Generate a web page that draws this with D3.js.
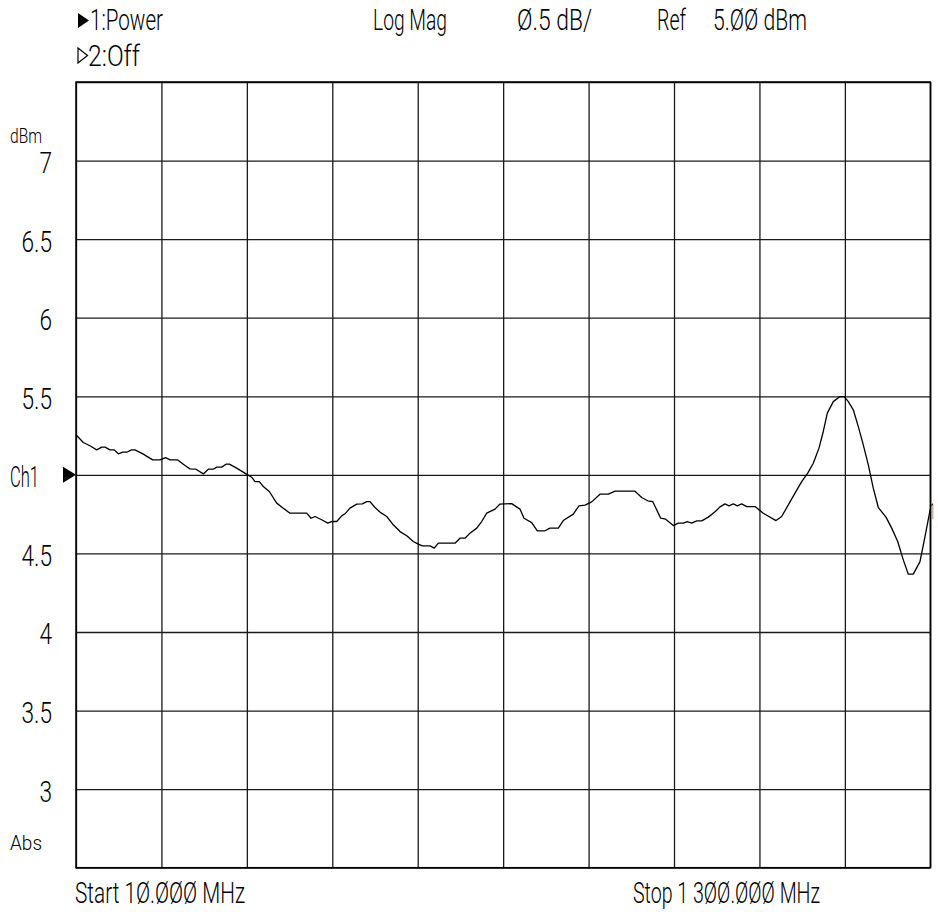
<!DOCTYPE html>
<html>
<head>
<meta charset="utf-8">
<script src="https://cdn.jsdelivr.net/npm/d3@7"></script>
<style>
  html, body { margin: 0; padding: 0; background: #fff; }
  svg { display: block; }
  text { font-family: Roboto, "DejaVu Sans", sans-serif; font-weight: 300; fill: #000; }
</style>
</head>
<body>
<svg id="chart" width="938" height="912"></svg>
<script>
// ---- data ----
const freqMHz = [
  10, 21.0, 31.1, 41.3, 48.8, 53.8, 61.3, 67.8, 73.9, 80.5,
  86.6, 94.1, 99.1, 111.6, 125.8, 136.8, 145.4, 151.9, 163.6, 174.6,
  182.1, 191.2, 202.2, 209.8, 217.3, 222.5, 230.0, 236.5, 241.5, 252.7,
  266.7, 275.3, 280.3, 286.8, 292.8, 301.9, 313.1, 323.0, 333.1,
  358.4, 364.9, 370.9, 381.0, 390.1, 396.1, 403.7, 411.2, 416.2, 423.7,
  433.9, 442.3, 449.0, 453.9, 461.5, 469.0, 479.2, 489.1, 499.2, 509.4,
  519.3, 526.9, 532.9, 544.5, 551.0, 557.1, 582.3, 589.8, 597.4, 604.9,
  615.1, 622.6, 630.2, 642.7, 650.2, 667.9,
  680.4, 686.5, 698.1, 706.6, 718.2, 725.7, 738.3, 745.8, 760.9, 769.5,
  778.6, 788.7, 801.2, 813.8, 823.9, 854.1, 864.2, 873.3, 880.8, 886.9,
  892.9, 900.4, 911.9, 919.5, 927.0, 933.1, 939.7, 947.3, 954.8, 964.8,
  974.9, 982.4,
  990.0, 996.0, 1002.5, 1008.6, 1015.2, 1022.8, 1035.3, 1047.8, 1067.0, 1075.6,
  1085.6, 1095.7, 1105.8, 1114.9, 1123.3, 1131.9, 1138.4, 1144.5, 1153.5, 1163.6,
  1170.1, 1176.2, 1183.7, 1191.3, 1198.8, 1206.4, 1213.9, 1221.5, 1233.1, 1241.7,
  1250.8, 1259.2, 1266.8, 1274.3, 1284.4, 1292.0, 1300
];
const powerDbm = [
  5.255, 5.206, 5.185, 5.159, 5.176, 5.176, 5.159, 5.159, 5.134, 5.144,
  5.144, 5.159, 5.159, 5.132, 5.095, 5.095, 5.110, 5.095, 5.095, 5.059,
  5.038, 5.036, 5.006, 5.036, 5.036, 5.049, 5.049, 5.068, 5.068, 5.043,
  5.006, 4.985, 4.957, 4.957, 4.926, 4.894, 4.820, 4.788, 4.756,
  4.756, 4.724, 4.735, 4.714, 4.693, 4.703, 4.703, 4.739, 4.752, 4.788,
  4.814, 4.815, 4.830, 4.830, 4.792, 4.763, 4.735, 4.682, 4.639, 4.612,
  4.576, 4.559, 4.548, 4.548, 4.534, 4.565, 4.565, 4.597, 4.597, 4.629,
  4.661, 4.703, 4.756, 4.782, 4.814, 4.817,
  4.782, 4.724, 4.696, 4.644, 4.644, 4.661, 4.661, 4.709, 4.750, 4.803,
  4.807, 4.828, 4.877, 4.877, 4.896, 4.896, 4.856, 4.835, 4.830, 4.777,
  4.724, 4.718, 4.677, 4.693, 4.693, 4.703, 4.693, 4.707, 4.707, 4.731,
  4.765, 4.796,
  4.815, 4.803, 4.815, 4.803, 4.815, 4.798, 4.798, 4.756, 4.709, 4.735,
  4.809, 4.884, 4.957, 5.011, 5.074, 5.170, 5.276, 5.393, 5.466, 5.498,
  5.498, 5.466, 5.414, 5.307, 5.191, 5.064, 4.915, 4.792, 4.731, 4.661,
  4.576, 4.459, 4.368, 4.368, 4.448, 4.607, 4.784
];
const xGridMHz = [10, 139, 268, 397, 526, 655, 784, 913, 1042, 1171, 1300];
const yGridDbm = [2.5, 3, 3.5, 4, 4.5, 5, 5.5, 6, 6.5, 7, 7.5];
const yTickValues = [3, 3.5, 4, 4.5, 5, 5.5, 6, 6.5, 7];
const yTickLabels = ["3", "3.5", "4", "4.5", "Ch1", "5.5", "6", "6.5", "7"];
const headerTexts = ["1:Power", "2:Off", "Log Mag", "Ø.5 dB/", "Ref", "5.ØØ dBm"];
const footerTexts = ["Start 1Ø.ØØØ MHz", "Stop 1 3ØØ.ØØØ MHz"];
const unitText = "dBm";
const formatText = "Abs";
const traceLabel = "1";

// ---- layout ----
const pLeft = 76, pRight = 930.3, pTop = 82, pBottom = 867.7;
const svg = d3.select("#chart");
const x = d3.scaleLinear().domain([10, 1300]).range([pLeft, pRight]);
const y = d3.scaleLinear().domain([2.5, 7.5]).range([pBottom, pTop]);
const SQUEEZE = 0.78;
const FS = 29;

// text helper: fixed width via textLength
function label(str, xs, base, size, width, anchor) {
  const t = svg.append("text")
    .attr("x", xs).attr("y", base)
    .attr("font-size", size)
    .attr("text-anchor", anchor || "start")
    .text(str);
  const w = width || t.node().getComputedTextLength() * SQUEEZE;
  t.attr("textLength", w).attr("lengthAdjust", "spacingAndGlyphs");
  return t;
}

// grid
const gridColor = "#1a1a1a";
svg.append("g")
  .attr("transform", `translate(0,${pBottom})`)
  .call(d3.axisBottom(x).tickValues(xGridMHz).tickSize(-(pBottom - pTop)).tickFormat(""))
  .call(g => g.select(".domain").remove())
  .call(g => g.selectAll(".tick line").attr("stroke", gridColor).attr("stroke-width", 1.3));

svg.append("g")
  .attr("transform", `translate(${pLeft},0)`)
  .call(d3.axisLeft(y).tickValues(yGridDbm).tickSize(-(pRight - pLeft)).tickFormat(""))
  .call(g => g.select(".domain").remove())
  .call(g => g.selectAll(".tick line").attr("stroke", gridColor).attr("stroke-width", 1.3));

svg.append("rect")
  .attr("x", pLeft).attr("y", pTop)
  .attr("width", pRight - pLeft).attr("height", pBottom - pTop)
  .attr("fill", "none").attr("stroke", "#000").attr("stroke-width", 1.5);

// y tick labels
yTickValues.forEach((v, i) => {
  const s = yTickLabels[i];
  if (s === "Ch1") {
    label(s, 10, y(v) + 12, FS, 29, "start");
  } else {
    label(s, 52, y(v) + 12.5, FS, null, "end");
  }
});

// trace
const line = d3.line()
  .x((d, i) => x(freqMHz[i]))
  .y(d => y(d))
  .curve(d3.curveLinear);
svg.append("path")
  .datum(powerDbm)
  .attr("d", line)
  .attr("fill", "none")
  .attr("stroke", "#000")
  .attr("stroke-width", 1.3)
  .attr("stroke-linejoin", "round");

// reference marker (Ch1 arrow)
const yr = y(5);
svg.append("path")
  .attr("d", `M63,${yr - 8} L76,${yr} L63,${yr + 8} Z`)
  .attr("fill", "#000");

// header
svg.append("path").attr("d", "M78,13 L89,20.5 L78,28 Z").attr("fill", "#000");
svg.append("path").attr("d", "M78,48 L87.5,55.5 L78,63 Z").attr("fill", "none").attr("stroke", "#000").attr("stroke-width", 1.2);
label(headerTexts[0], 90, 30, FS, 73);
label(headerTexts[1], 88, 65.5, FS, 52);
label(headerTexts[2], 373, 30, FS, 74);
label(headerTexts[3], 517, 30, FS, 75);
label(headerTexts[4], 657, 30, FS, 29);
label(headerTexts[5], 713, 30, FS, 94);

// units and format
label(unitText, 10, 143, 21, 32);
label(formatText, 10, 850, 21, 32);

// footer
label(footerTexts[0], 75, 903, FS, 170);
label(footerTexts[1], 633, 903, FS, 187);

// trace end marker
label(traceLabel, 934.5, 519, 22, 4, "end");
</script>
</body>
</html>
